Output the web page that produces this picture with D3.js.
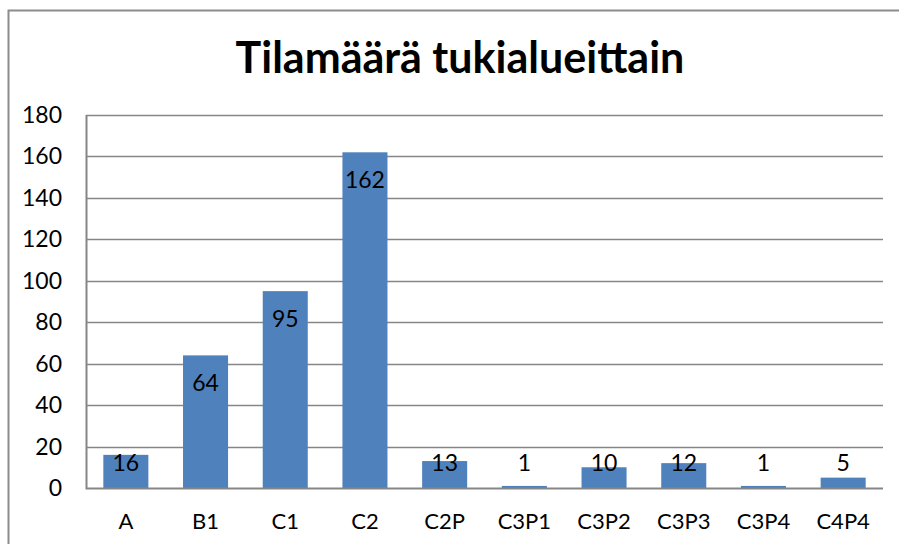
<!DOCTYPE html>
<html>
<head>
<meta charset="utf-8">
<script src="https://cdn.jsdelivr.net/npm/d3@7"></script>
<style>
  body { margin: 0; background: #fff; }
  text { font-family: Lato, "Liberation Sans", sans-serif; fill: #000; }
</style>
</head>
<body>
<div id="chart"></div>
<script>
var categories = ["A", "B1", "C1", "C2", "C2P", "C3P1", "C3P2", "C3P3", "C3P4", "C4P4"];
var values = [16, 64, 95, 162, 13, 1, 10, 12, 1, 5];
var yTicks = [0, 20, 40, 60, 80, 100, 120, 140, 160, 180];
var title = "Tilamäärä tukialueittain";

var W = 899, H = 544;
var plot = { left: 86, right: 883, top: 115, bottom: 488 };

var svg = d3.select("#chart").append("svg")
    .attr("width", W)
    .attr("height", H);

// outer frame (only top and left visible)
svg.append("path")
    .attr("d", "M8.5," + H + " V10.5 H" + W)
    .attr("fill", "none")
    .attr("stroke", "#8c8c8c")
    .attr("stroke-width", 2);

svg.append("text")
    .attr("x", 460)
    .attr("y", 73)
    .attr("text-anchor", "middle")
    .style("font-size", "43px")
    .style("font-weight", "bold")
    .text(title);

var x = d3.scaleBand()
    .domain(categories)
    .range([plot.left, plot.right])
    .paddingInner(0.435)
    .paddingOuter(0.2175);

var y = d3.scaleLinear()
    .domain([0, 180])
    .range([plot.bottom, plot.top]);

// gridlines
svg.append("g")
    .selectAll("line")
    .data(yTicks.filter(function(d){ return d > 0; }))
    .enter()
    .append("line")
    .attr("x1", plot.left)
    .attr("x2", plot.right)
    .attr("y1", function(d){ return Math.round(y(d)) + 0.5; })
    .attr("y2", function(d){ return Math.round(y(d)) + 0.5; })
    .attr("stroke", "#868686")
    .attr("stroke-width", 1.5);

// y labels
svg.append("g")
    .selectAll("text")
    .data(yTicks)
    .enter()
    .append("text")
    .attr("x", plot.left - 24)
    .attr("y", function(d){ return y(d); })
    .attr("dy", "0.35em")
    .attr("text-anchor", "end")
    .style("font-size", "23px")
    .text(function(d){ return d; });

// bars
svg.append("g")
    .selectAll("rect")
    .data(values)
    .enter()
    .append("rect")
    .attr("x", function(d, i){ return x(categories[i]); })
    .attr("y", function(d){ return y(d); })
    .attr("width", x.bandwidth())
    .attr("height", function(d){ return y(0) - y(d); })
    .attr("fill", "#4f81bd");

// value labels
svg.append("g")
    .selectAll("text")
    .data(values)
    .enter()
    .append("text")
    .attr("x", function(d, i){ return x(categories[i]) + x.bandwidth() / 2; })
    .attr("y", function(d){ return Math.min(y(d) + 28, plot.bottom - 25); })
    .attr("dy", "0.35em")
    .attr("text-anchor", "middle")
    .style("font-size", "23px")
    .text(function(d){ return d; });

// axes lines
svg.append("path")
    .attr("d", "M" + (plot.left + 0.5) + "," + plot.top + " V" + (plot.bottom + 0.5) + " H" + plot.right)
    .attr("fill", "none")
    .attr("stroke", "#868686")
    .attr("stroke-width", 2);

// category labels
svg.append("g")
    .selectAll("text")
    .data(categories)
    .enter()
    .append("text")
    .attr("x", function(d){ return x(d) + x.bandwidth() / 2; })
    .attr("y", 521)
    .attr("dy", "0.35em")
    .attr("text-anchor", "middle")
    .style("font-size", "22px")
    .text(function(d){ return d; });
</script>
</body>
</html>
